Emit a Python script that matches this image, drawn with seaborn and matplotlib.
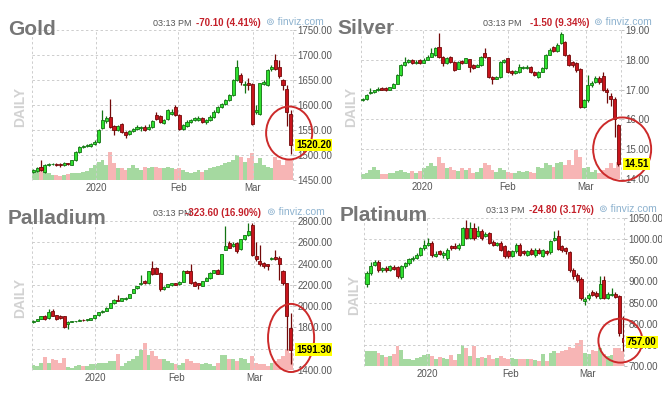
import numpy as np
import pandas as pd
import matplotlib
matplotlib.use("Agg")
import matplotlib.pyplot as plt
import seaborn as sns
from matplotlib.patches import Ellipse

# ---------------- data ----------------
gold_open = [1466,1468,1476,1467,1480,1482,1483,1482,1480,1484,
             1481,1490,1506,1517,1518,1519,1522,1527,1555,1568,
             1576,1558,1550,1562,1546,1542,1548,1552,1554,1557,
             1553,1557,1580,1578,1565,1573,1582,1597,1580,1553,
             1558,1566,1571,1570,1574,1566,1570,1577,1587,1596,
             1603,1610,1620,1650,1660,1640,1645,1643,1587,1583,
             1643,1640,1672,1691,1677,1650,1633,1582]
gold_close = [1470,1474,1470,1480,1482,1483,1481,1480,1484,1482,
              1490,1507,1517,1518,1520,1522,1527,1550,1570,1575,
              1557,1550,1558,1547,1540,1548,1553,1556,1557,1551,
              1557,1568,1573,1567,1570,1590,1586,1580,1553,1560,
              1567,1571,1574,1575,1566,1570,1577,1587,1596,1603,
              1610,1620,1650,1677,1647,1643,1640,1563,1590,1643,
              1647,1670,1677,1673,1658,1640,1587,1520.2]
gold_high = [1472,1477,1490,1482,1484,1485,1484,1484,1486,1485,
             1491,1508,1518,1520,1522,1524,1530,1552,1590,1578,
             1613,1560,1560,1564,1548,1550,1555,1560,1559,1560,
             1562,1570,1587,1580,1572,1592,1592,1600,1582,1562,
             1570,1573,1576,1578,1576,1573,1580,1590,1598,1605,
             1612,1623,1652,1691,1665,1648,1655,1645,1600,1645,
             1650,1672,1680,1703,1690,1652,1640,1590]
gold_low = [1464,1466,1468,1465,1478,1480,1479,1477,1479,1480,
            1480,1489,1505,1515,1516,1517,1520,1525,1553,1565,
            1555,1540,1548,1545,1535,1540,1546,1550,1548,1548,
            1550,1555,1570,1565,1563,1570,1580,1578,1550,1551,
            1556,1564,1569,1568,1564,1563,1568,1575,1585,1594,
            1600,1608,1618,1648,1640,1625,1630,1560,1582,1580,
            1640,1638,1668,1670,1655,1630,1558,1503]
gold_vol = [20,25,40,35,22,15,15,12,15,18,
            20,22,20,25,28,35,45,55,60,45,
            85,50,35,35,30,35,45,35,30,40,
            35,40,40,35,35,40,35,32,35,30,
            25,20,25,30,25,30,35,40,42,45,
            50,55,60,75,70,55,65,80,50,65,
            45,40,35,70,60,45,60,60]

silver_open = [16.65,16.67,16.88,16.93,16.97,17.07,17.07,16.99,17.06,17.20,
               17.48,17.83,17.94,18.00,17.88,18.00,17.90,18.00,18.10,18.16,
               18.44,18.10,17.88,18.10,17.94,17.70,17.96,17.90,18.02,17.83,
               17.77,17.83,18.22,18.08,17.43,17.37,17.43,17.94,18.05,17.62,
               17.55,17.58,17.72,17.72,17.75,17.60,17.43,17.60,17.72,18.17,
               18.44,18.28,18.55,18.60,18.15,17.94,17.88,17.70,16.42,16.65,
               17.15,17.26,17.40,17.45,16.98,16.80,16.70,15.82]
silver_close = [16.70,16.82,16.93,16.97,17.02,17.00,16.98,17.08,17.20,17.50,
                17.83,17.94,18.00,17.88,17.94,17.88,18.00,18.10,18.22,18.38,
                18.10,17.88,18.05,17.94,17.65,17.94,17.88,18.05,17.77,17.72,
                17.83,18.10,18.08,17.43,17.37,17.43,17.94,18.00,17.60,17.55,
                17.63,17.77,17.77,17.77,17.60,17.49,17.60,17.72,18.17,18.33,
                18.28,18.50,18.88,18.15,17.83,17.83,17.65,16.42,16.65,17.15,
                17.22,17.40,17.26,16.98,16.92,16.70,16.00,14.51]
silver_high = [16.72,16.85,17.05,17.00,17.10,17.10,17.10,17.10,17.22,17.52,
               17.85,18.10,18.03,18.03,17.98,18.02,18.05,18.15,18.40,18.42,
               18.90,18.12,18.08,18.12,17.96,17.96,18.00,18.07,18.04,17.86,
               17.86,18.12,18.38,18.10,17.46,17.46,17.96,18.03,18.07,17.65,
               17.66,17.85,17.80,17.82,17.78,17.62,17.62,17.75,18.20,18.38,
               18.47,18.55,18.92,18.63,18.18,17.96,17.92,17.72,16.70,17.48,
               17.30,17.45,17.46,17.58,17.05,16.88,16.75,15.86]
silver_low = [16.62,16.65,16.85,16.90,16.95,16.97,16.95,16.97,17.04,17.18,
              17.45,17.80,17.90,17.85,17.85,17.85,17.88,17.98,18.08,18.14,
              18.05,17.80,17.85,17.90,17.62,17.68,17.85,17.88,17.60,17.70,
              17.75,17.80,18.05,17.40,17.20,17.35,17.40,17.90,17.55,17.50,
              17.52,17.55,17.70,17.70,17.57,17.45,17.40,17.58,17.70,18.15,
              18.25,18.26,18.52,18.12,17.80,17.75,17.60,16.38,16.38,16.60,
              17.10,17.22,17.20,16.95,16.55,16.45,15.42,14.42]
silver_vol = [15,19,27,37,27,15,14,19,17,25,
              27,22,19,25,19,25,32,39,47,39,
              67,47,32,37,27,25,32,27,32,17,
              22,32,47,42,27,22,32,27,22,17,
              19,25,22,25,22,17,37,32,49,42,
              37,47,52,42,57,42,87,67,32,37,
              22,27,17,27,32,47,32,52]

pall_open = [1847,1862,1878,1910,1884,1956,1916,1903,1910,1831,
             1853,1856,1862,1872,1868,1872,1884,1916,1941,1956,
             1987,2028,2060,2050,2066,2081,2128,2166,2206,2237,
             2216,2362,2362,2316,2160,2184,2197,2216,2206,2228,
             2331,2331,2228,2216,2190,2237,2262,2316,2340,2306,
             2528,2597,2566,2597,2534,2628,2666,2760,2472,2425,
             2410,2394,2440,2462,2456,2331,2216,1790]
pall_close = [1862,1878,1903,1878,1947,1910,1878,1884,1800,1853,
              1859,1862,1872,1870,1875,1884,1916,1941,1956,1987,
              2028,2060,2050,2072,2081,2112,2160,2190,2222,2216,
              2331,2300,2306,2160,2184,2206,2216,2200,2228,2331,
              2316,2216,2190,2197,2237,2268,2316,2340,2306,2487,
              2566,2550,2581,2519,2628,2666,2706,2478,2440,2394,
              2378,2378,2456,2440,2394,2216,1910,1591.3]
pall_high = [1866,1881,1906,1915,1972,1975,1920,1915,1912,1858,
             1862,1865,1875,1876,1878,1887,1920,1944,1960,1990,
             2031,2063,2103,2075,2084,2115,2163,2193,2290,2244,
             2334,2425,2370,2320,2187,2210,2220,2222,2232,2335,
             2340,2394,2232,2222,2240,2271,2320,2343,2346,2490,
             2753,2610,2600,2600,2631,2669,2780,2780,2600,2572,
             2415,2400,2465,2528,2470,2335,2220,1940]
pall_low = [1843,1858,1875,1872,1880,1905,1872,1880,1790,1784,
            1848,1852,1858,1865,1864,1868,1880,1912,1937,1952,
            1983,2024,2045,2046,2062,2077,2124,2162,2202,2210,
            2212,2295,2300,2145,2150,2180,2193,2195,2202,2225,
            2310,2210,2185,2160,2186,2233,2258,2312,2300,2302,
            2524,2545,2560,2500,2530,2624,2662,2470,2420,2380,
            2360,2340,2435,2430,2250,2200,1590,1456]
pall_vol = [14,12,22,38,22,32,30,22,37,10,
            7,12,14,12,12,17,17,22,22,20,
            27,27,47,12,22,27,32,42,60,82,
            44,57,42,34,32,27,22,17,14,22,
            32,27,22,22,17,22,17,12,22,44,
            44,32,32,27,37,32,22,42,22,17,
            17,12,22,27,32,42,62,52]

plat_open = [893,920,940,947,926,932,928,934,934,910,
             936,944,952,956,963,979,987,991,961,971,
             963,955,983,983,979,987,1026,1003,1026,1007,
             1019,1007,1015,993,987,991,983,971,961,971,
             987,971,963,974,963,974,961,971,969,999,
             1008,983,979,969,928,916,906,853,861,875,
             873,861,904,861,869,871,865,767]
plat_close = [920,936,945,926,932,926,936,930,912,936,
              944,953,956,963,979,987,991,963,966,966,
              967,975,979,979,987,1026,1003,1026,1003,1019,
              1003,1011,991,987,991,975,959,959,971,985,
              963,967,971,966,975,967,974,967,995,1003,
              977,975,971,926,912,904,861,859,869,869,
              865,893,861,871,871,863,778,757]
plat_high = [924,946,950,950,935,936,939,938,936,938,
             947,956,960,967,982,998,1002,995,972,975,
             972,978,986,990,990,1028,1046,1040,1038,1030,
             1025,1018,1018,998,994,995,986,975,974,990,
             990,975,975,978,978,980,977,975,998,1019,
             1022,986,982,972,932,920,910,863,873,880,
             877,912,914,875,885,875,868,818]
plat_low = [888,916,936,922,922,923,925,926,908,906,
            932,940,948,952,960,975,984,958,957,962,
            955,950,975,976,975,985,1000,1000,998,1004,
            998,1004,988,983,984,972,955,955,958,968,
            960,963,960,962,958,964,958,963,966,996,
            974,970,966,922,905,898,855,845,857,865,
            860,858,858,858,866,860,770,735]
plat_vol = [45,47,45,40,32,27,30,35,60,48,
            20,22,18,25,28,32,35,30,20,28,
            25,20,32,18,35,65,55,30,60,25,
            28,25,32,22,25,30,25,20,25,22,
            20,20,22,20,18,15,35,15,40,45,
            40,45,50,58,55,70,80,40,35,50,
            45,55,35,30,32,55,55,45]

month_labels = ["2020", "Feb", "Mar"]
gold_ticks_x = [16.3, 37.7, 57.2]
silver_ticks_x = [15.7, 38.0, 58.5]
pall_ticks_x = [16.1, 37.4, 57.5]
plat_ticks_x = [15.8, 37.5, 57.6]

gold_yticks = [1450, 1500, 1550, 1600, 1650, 1700, 1750]
silver_yticks = [14, 15, 16, 17, 18, 19]
pall_yticks = [1400, 1600, 1800, 2000, 2200, 2400, 2600, 2800]
plat_yticks = [700, 750, 800, 850, 900, 950, 1000, 1050]

names = ["Gold", "Silver", "Palladium", "Platinum"]
changes = ["-70.10 (4.41%)", "-1.50 (9.34%)", "-323.60 (16.90%)", "-24.80 (3.17%)"]
time_label = "03:13 PM"

# ---------------- style ----------------
sns.set_theme(style="white")
plt.rcParams['font.family'] = ['Liberation Sans', 'DejaVu Sans']

W, H = 662, 393
fig = plt.figure(figsize=(W / 100, H / 100), dpi=100)
fig.patch.set_facecolor("white")

G_FILL, G_EDGE = "#2fe02f", "#137313"
R_FILL, R_EDGE = "#c8141c", "#720909"
V_UP, V_DOWN = "#a5d9a0", "#f7b5b5"
GRID = "#cdcdcd"


def rect(l, t, r, b):
    return [l / W, 1 - b / H, (r - l) / W, (b - t) / H]


def ftext(x, y, s, **kw):
    return fig.text(x / W, 1 - y / H, s, **kw)


panels = [
    dict(name=names[0], o=gold_open, c=gold_close, h=gold_high, l=gold_low, v=gold_vol,
         box=(32, 30, 293, 180), xlim=(-0.34, 67.6), ylim=(1450, 1750),
         yt=gold_yticks, xt=gold_ticks_x,
         title=(8, 35), daily=(20, 107), time=(153, 26), chg=(261, 26), fv=(266, 25),
         circ=(66.6, 1544, 12.0, 106), change=changes[0]),
    dict(name=names[1], o=silver_open, c=silver_close, h=silver_high, l=silver_low, v=silver_vol,
         box=(361, 30, 621, 179), xlim=(-0.45, 67.7), ylim=(14, 19),
         yt=silver_yticks, xt=silver_ticks_x,
         title=(337, 34), daily=(351, 107), time=(483, 26), chg=(589, 26), fv=(594, 25),
         circ=(68.0, 15.0, 15.2, 2.13), change=changes[1]),
    dict(name=names[2], o=pall_open, c=pall_close, h=pall_high, l=pall_low, v=pall_vol,
         box=(32, 221, 293, 370), xlim=(-0.34, 67.6), ylim=(1400, 2800),
         yt=pall_yticks, xt=pall_ticks_x,
         title=(8, 224), daily=(20, 298), time=(153, 216), chg=(261, 216), fv=(267, 215),
         circ=(67.1, 1701, 12.0, 640), change=changes[2]),
    dict(name=names[3], o=plat_open, c=plat_close, h=plat_high, l=plat_low, v=plat_vol,
         box=(364, 218, 624, 366), xlim=(-0.78, 67.25), ylim=(700, 1050),
         yt=plat_yticks, xt=plat_ticks_x,
         title=(340, 221), daily=(354, 295), time=(486, 213), chg=(594, 213), fv=(599, 212),
         circ=(66.3, 760, 11.5, 104), change=changes[3]),
]

for p in panels:
    r = rect(*p["box"])
    vax = fig.add_axes(r)
    ax = fig.add_axes(r)
    vax.set_zorder(1)
    ax.set_zorder(2)
    ax.patch.set_visible(False)

    o = np.asarray(p["o"], float)
    c = np.asarray(p["c"], float)
    hi = np.asarray(p["h"], float)
    lo = np.asarray(p["l"], float)
    idx = np.arange(len(o))
    up = c >= o

    # volume bars (seaborn)
    vdf = pd.DataFrame({"i": idx, "vol": p["v"], "dir": np.where(up, "up", "down")})
    sns.barplot(data=vdf, x="i", y="vol", hue="dir", palette={"up": V_UP, "down": V_DOWN},
                native_scale=True, width=1.0, dodge=False, errorbar=None, legend=False,
                saturation=1, linewidth=0, ax=vax)
    vax.set_xlim(*p["xlim"])
    vax.set_ylim(0, 450)
    vax.axis("off")

    # candles
    ax.vlines(idx[up], lo[up], hi[up], color=G_EDGE, lw=0.9, zorder=3)
    ax.vlines(idx[~up], lo[~up], hi[~up], color=R_EDGE, lw=0.9, zorder=3)
    ax.bar(idx[up], c[up] - o[up], bottom=o[up], width=0.8, color=G_FILL,
           edgecolor=G_EDGE, linewidth=0.6, zorder=4)
    ax.bar(idx[~up], c[~up] - o[~up], bottom=o[~up], width=0.8, color=R_FILL,
           edgecolor=R_EDGE, linewidth=0.6, zorder=4)

    ax.set_xlim(*p["xlim"])
    ax.set_ylim(*p["ylim"])
    ax.set_xticks(p["xt"])
    ax.set_xticklabels(month_labels)
    ax.set_yticks(p["yt"])
    ax.set_yticklabels([f"{t:.2f}" for t in p["yt"]])
    ax.yaxis.tick_right()
    ax.tick_params(axis="y", right=True, left=False, length=2.5, width=0.6, color="#b5b5b5",
                   pad=0.8, labelsize=7, labelcolor="#555555")
    ax.tick_params(axis="x", length=0, pad=2.5, labelsize=7, labelcolor="#555555")
    ax.grid(True, color=GRID, linestyle=(0, (2.5, 2.5)), linewidth=0.7)
    ax.set_axisbelow(True)
    for s in ax.spines.values():
        s.set_visible(False)
    for xe in p["xlim"]:
        ax.axvline(xe, color=GRID, linestyle=(0, (2.5, 2.5)), linewidth=0.7, clip_on=False, zorder=1)

    # last price label
    ax.annotate(f"{c[-1]:.2f}", xy=(1, c[-1]), xycoords=ax.get_yaxis_transform(),
                xytext=(2.2, 0), textcoords="offset points", ha="left", va="center",
                fontsize=7, fontweight="bold", color="black", annotation_clip=False,
                bbox=dict(boxstyle="square,pad=0.12", fc="#ffff00", ec="none"), zorder=10)

    # red circle annotation
    cx, cy, cw, ch = p["circ"]
    ax.add_patch(Ellipse((cx, cy), cw, ch, fill=False, ec="#cc2a2a", lw=1.4,
                         clip_on=False, zorder=9))

    # texts
    ftext(*p["title"], p["name"], fontsize=15, fontweight="bold", color="#767676",
          ha="left", va="baseline")
    ftext(*p["daily"], "DAILY", fontsize=10, fontweight="bold", color="#d2d2d2",
          rotation=90, ha="center", va="center")
    ftext(*p["time"], time_label, fontsize=6.5, color="#555555", ha="left", va="baseline")
    ftext(*p["chg"], p["change"], fontsize=7, fontweight="bold", color="#c4202a",
          ha="right", va="baseline")
    ftext(*p["fv"], "\u229a finviz.com", fontsize=7.5, color="#8db2cf", ha="left",
          va="baseline", family=["Liberation Sans", "DejaVu Sans"])

fig.savefig("out.png", dpi=100, facecolor="white")
